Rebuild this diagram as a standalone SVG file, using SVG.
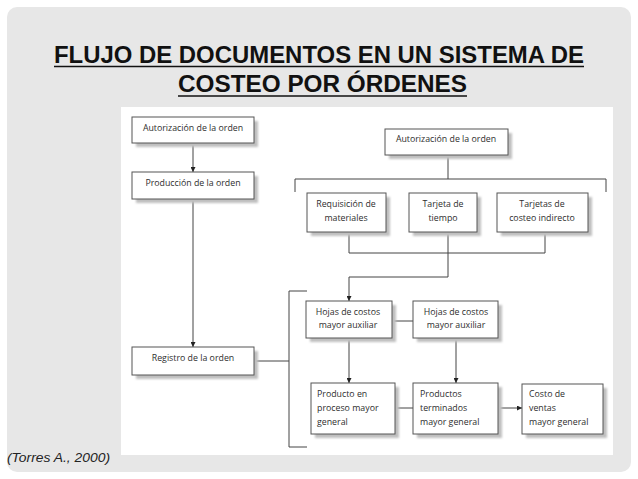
<svg xmlns="http://www.w3.org/2000/svg" width="638" height="479" viewBox="0 0 638 479">
<style>
.box{fill:#ffffff;stroke:#555555;stroke-width:1}
.sh{fill:#bfbfbf}
.t{font-family:"Open Sans","Liberation Sans",sans-serif;font-size:8.8px;fill:#2e2e2e}
.c{text-anchor:middle}
.ln{fill:none;stroke:#444444;stroke-width:1}
.title{font-family:"Liberation Sans",Arial,sans-serif;font-weight:bold;font-size:24.5px;fill:#111111;text-anchor:middle}
</style>
<defs>
<marker id="ah" viewBox="0 0 10 10" refX="10" refY="5" markerWidth="5" markerHeight="5" orient="auto" markerUnits="userSpaceOnUse">
<path d="M0,0 L10,5 L0,10 z" fill="#222222"/>
</marker>
<filter id="blur" x="-10%" y="-10%" width="130%" height="140%"><feGaussianBlur stdDeviation="0.8"/></filter>
</defs>
<rect x="0" y="0" width="638" height="479" fill="#ffffff"/>
<rect x="7" y="7" width="624" height="465" rx="10" ry="10" fill="#e7e7e7"/>
<g id="title">
<text class="title" x="319" y="63" textLength="530" lengthAdjust="spacingAndGlyphs">FLUJO DE DOCUMENTOS EN UN SISTEMA DE</text>
<line x1="54" y1="66.5" x2="584" y2="66.5" stroke="#111111" stroke-width="1.6"/>
<text class="title" x="322.5" y="92" textLength="289" lengthAdjust="spacingAndGlyphs">COSTEO POR ÓRDENES</text>
<line x1="178" y1="96" x2="467" y2="96" stroke="#111111" stroke-width="1.6"/>
</g>
<rect x="121" y="107" width="492" height="348" fill="#ffffff"/>
<g id="connectors">
<line class="ln" x1="193" y1="143" x2="193" y2="172" marker-end="url(#ah)"/>
<line class="ln" x1="193" y1="199" x2="193" y2="347" marker-end="url(#ah)"/>
<polyline class="ln" points="448,155 448,179"/>
<polyline class="ln" points="295,192 295,179 606,179 606,192"/>
<polyline class="ln" points="349,232 349,253 545,253 545,232"/>
<polyline class="ln" points="448,232 448,277 349,277 349,301" marker-end="url(#ah)"/>
<line class="ln" x1="254" y1="361" x2="289" y2="361"/>
<polyline class="ln" points="307,291 289,291 289,447 307,447"/>
<line class="ln" x1="392" y1="321" x2="413" y2="321"/>
<line class="ln" x1="349" y1="338" x2="349" y2="383" marker-end="url(#ah)"/>
<line class="ln" x1="456" y1="338" x2="456" y2="383" marker-end="url(#ah)"/>
<line class="ln" x1="395" y1="408" x2="413" y2="408"/>
<line class="ln" x1="498" y1="408" x2="522" y2="408" marker-end="url(#ah)"/>
</g>
<g id="n1">
<rect class="sh" x="136" y="121" width="122" height="26" filter="url(#blur)"/>
<rect class="box" x="132" y="117" width="122" height="26"/>
<text class="t c" x="193" y="130.5">Autorización de la orden</text>
</g>
<g id="n2">
<rect class="sh" x="136" y="176" width="122" height="27" filter="url(#blur)"/>
<rect class="box" x="132" y="172" width="122" height="27"/>
<text class="t c" x="193" y="186">Producción de la orden</text>
</g>
<g id="n3">
<rect class="sh" x="136" y="351" width="122" height="28" filter="url(#blur)"/>
<rect class="box" x="132" y="347" width="122" height="28"/>
<text class="t c" x="193" y="360.5">Registro de la orden</text>
</g>
<g id="n4">
<rect class="sh" x="389" y="133" width="123" height="26" filter="url(#blur)"/>
<rect class="box" x="385" y="129" width="123" height="26"/>
<text class="t c" x="446" y="141.5">Autorización de la orden</text>
</g>
<g id="n5">
<rect class="sh" x="311" y="197" width="79" height="39" filter="url(#blur)"/>
<rect class="box" x="307" y="193" width="79" height="39"/>
<text class="t c" x="346" y="207">Requisición de</text>
<text class="t c" x="346" y="221">materiales</text>
</g>
<g id="n6">
<rect class="sh" x="413" y="197" width="68" height="39" filter="url(#blur)"/>
<rect class="box" x="409" y="193" width="68" height="39"/>
<text class="t c" x="443" y="207">Tarjeta de</text>
<text class="t c" x="443" y="221">tiempo</text>
</g>
<g id="n7">
<rect class="sh" x="501" y="197" width="91" height="39" filter="url(#blur)"/>
<rect class="box" x="497" y="193" width="91" height="39"/>
<text class="t c" x="542" y="207">Tarjetas de</text>
<text class="t c" x="542" y="221">costeo indirecto</text>
</g>
<g id="n8">
<rect class="sh" x="310" y="305" width="86" height="37" filter="url(#blur)"/>
<rect class="box" x="306" y="301" width="86" height="37"/>
<text class="t c" x="348" y="315">Hojas de costos</text>
<text class="t c" x="348" y="328">mayor auxiliar</text>
</g>
<g id="n9">
<rect class="sh" x="417" y="305" width="85" height="37" filter="url(#blur)"/>
<rect class="box" x="413" y="301" width="85" height="37"/>
<text class="t c" x="456" y="315">Hojas de costos</text>
<text class="t c" x="456" y="328">mayor auxiliar</text>
</g>
<g id="n10">
<rect class="sh" x="315" y="387" width="84" height="51" filter="url(#blur)"/>
<rect class="box" x="311" y="383" width="84" height="51"/>
<text class="t" x="317" y="397">Producto en</text>
<text class="t" x="317" y="411">proceso mayor</text>
<text class="t" x="317" y="425">general</text>
</g>
<g id="n11">
<rect class="sh" x="417" y="387" width="85" height="51" filter="url(#blur)"/>
<rect class="box" x="413" y="383" width="85" height="51"/>
<text class="t" x="420" y="397">Productos</text>
<text class="t" x="420" y="411">terminados</text>
<text class="t" x="420" y="425">mayor general</text>
</g>
<g id="n12">
<rect class="sh" x="526" y="388" width="81" height="50" filter="url(#blur)"/>
<rect class="box" x="522" y="384" width="81" height="50"/>
<text class="t" x="529" y="397">Costo de</text>
<text class="t" x="529" y="411">ventas</text>
<text class="t" x="529" y="425">mayor general</text>
</g>
<text x="7" y="462" font-family="'Liberation Sans',Arial,sans-serif" font-style="italic" font-size="12" fill="#222222" textLength="103" lengthAdjust="spacingAndGlyphs">(Torres A., 2000)</text>
</svg>
